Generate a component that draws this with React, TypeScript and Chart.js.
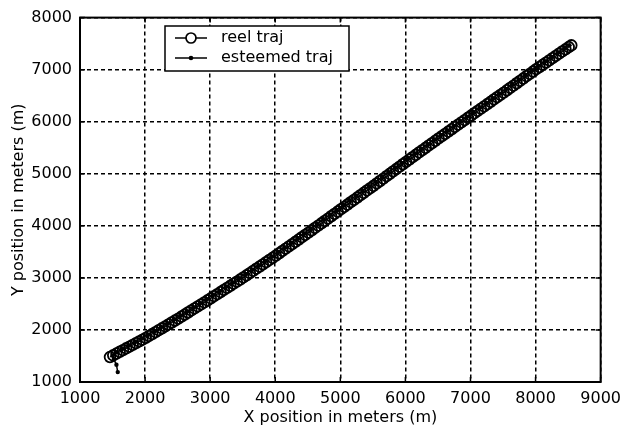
import React, { useEffect, useRef } from "react";
import { Chart, registerables } from "chart.js";

Chart.register(...registerables);

const xMin = 1000;
const xMax = 9000;
const yMin = 1000;
const yMax = 8000;
const tickStep = 1000;

const seriesNames = ["reel traj", "esteemed traj"];

const realX = [1460,1510,1560,1610,1660,1710,1760,1810,1860,1910,1960,2010,2060,2110,2160,2210,2260,2310,2360,2410,2460,2510,2560,2610,2660,2710,2760,2810,2860,2910,2960,3010,3060,3110,3160,3210,3260,3310,3360,3410,3460,3510,3560,3610,3660,3710,3760,3810,3860,3910,3960,4010,4060,4110,4160,4210,4260,4310,4360,4410,4460,4510,4560,4610,4660,4710,4760,4810,4860,4910,4960,5010,5060,5110,5160,5210,5260,5310,5360,5410,5460,5510,5560,5610,5660,5710,5760,5810,5860,5910,5960,6010,6060,6110,6160,6210,6260,6310,6360,6410,6460,6510,6560,6610,6660,6710,6760,6810,6860,6910,6960,7010,7060,7110,7160,7210,7260,7310,7360,7410,7460,7510,7560,7610,7660,7710,7760,7810,7860,7910,7960,8010,8060,8110,8160,8210,8260,8310,8360,8410,8460,8510,8550];
const realY = [1480,1513,1547,1580,1613,1647,1680,1713,1747,1780,1813,1847,1884,1921,1958,1995,2032,2069,2106,2143,2180,2218,2257,2296,2335,2374,2413,2452,2491,2530,2569,2608,2648,2688,2728,2768,2808,2848,2888,2928,2968,3008,3050,3092,3134,3176,3218,3260,3302,3344,3386,3429,3473,3517,3561,3605,3649,3693,3737,3781,3825,3869,3914,3959,4004,4049,4094,4139,4184,4229,4274,4319,4364,4409,4454,4499,4544,4589,4634,4679,4724,4769,4815,4861,4907,4953,4999,5045,5091,5137,5183,5229,5274,5319,5364,5409,5454,5499,5544,5589,5634,5679,5723,5767,5811,5855,5899,5943,5987,6031,6075,6119,6163,6207,6251,6295,6339,6383,6427,6471,6515,6559,6604,6649,6694,6739,6784,6829,6874,6919,6964,7009,7051,7094,7136,7179,7221,7264,7306,7349,7391,7434,7468];

const estX = [1580,1560,1520,1500,1560,1640,1740,1840,1940,2040,2140,2240,2340,2440,2540,2640,2740,2840,2940,3040,3140,3240,3340,3440,3540,3640,3740,3840,3940,4040,4140,4240,4340,4440,4540,4640,4740,4840,4940,5040,5140,5240,5340,5440,5540,5640,5740,5840,5940,6040,6140,6240,6340,6440,6540,6640,6740,6840,6940,7040,7140,7240,7340,7440,7540,7640,7740,7840,7940,8040,8140,8240,8340,8440,8520];
const estY = [1190,1330,1440,1510,1570,1630,1695,1765,1835,1905,1975,2045,2125,2200,2275,2350,2430,2510,2590,2670,2750,2830,2910,2990,3075,3155,3240,3325,3410,3495,3585,3675,3765,3855,3945,4035,4125,4215,4305,4400,4490,4580,4670,4760,4850,4940,5030,5120,5210,5300,5390,5480,5570,5660,5745,5830,5920,6010,6095,6185,6275,6360,6450,6540,6630,6720,6810,6900,6990,7075,7160,7245,7330,7415,7470];

const FONT = "'DejaVu Sans', 'Liberation Sans', sans-serif";

const framePlugin = {
  id: "frame",
  afterDraw(chart: any) {
    const { ctx, chartArea } = chart;
    const { left, right, top, bottom } = chartArea;
    ctx.save();
    ctx.strokeStyle = "#000";
    ctx.lineWidth = 1.5;
    ctx.setLineDash([]);
    const xs = chart.scales.x;
    const ys = chart.scales.y;
    ctx.beginPath();
    for (const t of xs.ticks) {
      const px = xs.getPixelForValue(t.value);
      ctx.moveTo(px, bottom);
      ctx.lineTo(px, bottom - 5);
      ctx.moveTo(px, top);
      ctx.lineTo(px, top + 5);
    }
    for (const t of ys.ticks) {
      const py = ys.getPixelForValue(t.value);
      ctx.moveTo(left, py);
      ctx.lineTo(left + 5, py);
      ctx.moveTo(right, py);
      ctx.lineTo(right - 5, py);
    }
    ctx.stroke();
    ctx.lineWidth = 2;
    ctx.strokeRect(left, top, right - left, bottom - top);

    const bx = 165, by = 26, bw = 184, bh = 45;
    ctx.fillStyle = "#fff";
    ctx.fillRect(bx, by, bw, bh);
    ctx.lineWidth = 1.5;
    ctx.strokeStyle = "#000";
    ctx.strokeRect(bx, by, bw, bh);
    const rows = [38, 58];
    for (let i = 0; i < 2; i++) {
      const ry = rows[i];
      ctx.lineWidth = 1.5;
      ctx.beginPath();
      ctx.moveTo(175, ry);
      ctx.lineTo(207, ry);
      ctx.stroke();
      ctx.beginPath();
      if (i === 0) {
        ctx.fillStyle = "#fff";
        ctx.lineWidth = 1.7;
        ctx.arc(191, ry, 5, 0, Math.PI * 2);
        ctx.fill();
        ctx.stroke();
      } else {
        ctx.fillStyle = "#000";
        ctx.arc(191, ry, 2.3, 0, Math.PI * 2);
        ctx.fill();
      }
    }
    ctx.fillStyle = "#000";
    ctx.font = "16px " + FONT;
    ctx.textBaseline = "middle";
    ctx.textAlign = "left";
    ctx.fillText(seriesNames[0], 221, rows[0]);
    ctx.fillText(seriesNames[1], 221, rows[1]);
    ctx.restore();
  },
};

export default function App() {
  const ref = useRef<HTMLCanvasElement>(null);
  useEffect(() => {
    if (!ref.current) return;
    const real = realX.map((x, i) => ({ x, y: realY[i] }));
    const est = estX.map((x, i) => ({ x, y: estY[i] }));
    const tickFont = { family: FONT, size: 16 };
    const chart = new Chart(ref.current, {
      type: "scatter",
      data: {
        datasets: [
          {
            label: seriesNames[1],
            data: est,
            showLine: true,
            borderColor: "#000",
            borderWidth: 1.5,
            pointRadius: 2.2,
            pointBackgroundColor: "#000",
            pointBorderColor: "#000",
            pointBorderWidth: 0,
          },
          {
            label: seriesNames[0],
            data: real,
            showLine: true,
            borderColor: "#000",
            borderWidth: 1.3,
            pointRadius: 5.3,
            pointBackgroundColor: "rgba(0,0,0,0)",
            pointBorderColor: "#000",
            pointBorderWidth: 1.8,
          },
        ],
      },
      options: {
        responsive: false,
        animation: false,
        events: [],
        layout: { padding: { top: 15, right: 20, left: 0, bottom: 0 } },
        plugins: { legend: { display: false }, tooltip: { enabled: false } },
        scales: {
          x: {
            type: "linear",
            min: xMin,
            max: xMax,
            afterFit: (s: any) => { s.height = 49; },
            ticks: { stepSize: tickStep, color: "#000", font: tickFont, padding: 7, maxRotation: 0, callback: (v: any) => String(v) },
            grid: { color: "#000", lineWidth: 1.5, drawTicks: false },
            border: { display: false, dash: [4, 3] },
            title: { display: true, text: "X position in meters (m)", color: "#000", font: tickFont, padding: { top: 0, bottom: 4 } },
          },
          y: {
            type: "linear",
            min: yMin,
            max: yMax,
            afterFit: (s: any) => { s.width = 80; },
            ticks: { stepSize: tickStep, color: "#000", font: tickFont, padding: 8, callback: (v: any) => String(v) },
            grid: { color: "#000", lineWidth: 1.5, drawTicks: false },
            border: { display: false, dash: [4, 3] },
            title: { display: true, text: "Y position in meters (m)", color: "#000", font: tickFont, padding: { top: 9, bottom: 0 } },
          },
        },
      },
      plugins: [framePlugin],
    });
    return () => chart.destroy();
  }, []);
  return (
    <canvas
      ref={ref}
      width={628}
      height={431}
      style={{ position: "absolute", left: 0, top: 0, background: "#fff" }}
    />
  );
}
